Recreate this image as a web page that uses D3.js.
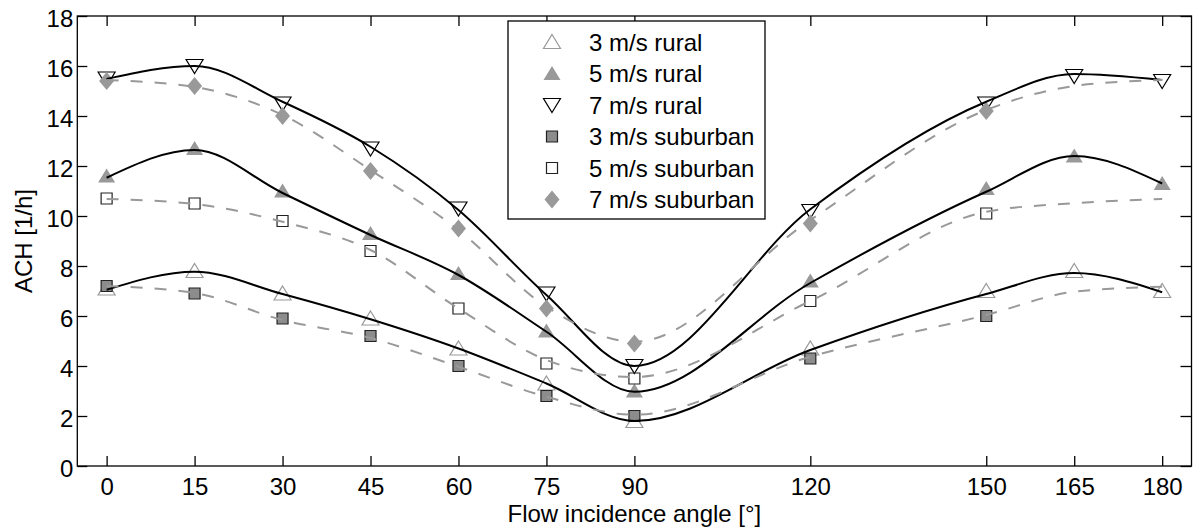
<!DOCTYPE html>
<meta charset="utf-8">
<style>
body { margin: 0; background: #fff; }
text { font-family: "Liberation Sans", Arial, Helvetica, sans-serif; font-size: 24px; fill: #000; }
.axis .domain { display: none; }
.axis line { stroke: #000; stroke-width: 1.3px; }
.frame { fill: none; stroke: #000; stroke-width: 1.3px; }
.fit { fill: none; stroke-width: 2px; }
.fit--rural { stroke: #000; }
.fit--suburban { stroke: #999; stroke-dasharray: 12,12; }
.legend-box { fill: #fff; stroke: #000; stroke-width: 1.3px; }
</style>
<svg width="1193" height="529"></svg>
<script src="https://cdn.jsdelivr.net/npm/d3@7"></script>
<script>

// measured angles (deg) and air change rates (1/h)
var angles = [0, 15, 30, 45, 60, 75, 90, 120, 150, 165, 180],
    anglesSub = [0, 15, 30, 45, 60, 75, 90, 120, 150];

var rural3 = [7.1, 7.8, 6.9, 5.9, 4.7, 3.3, 1.8, 4.7, 7.0, 7.8, 7.0],
    rural5 = [11.6, 12.7, 11.0, 9.3, 7.7, 5.4, 3.0, 7.4, 11.1, 12.4, 11.3],
    rural7 = [15.5, 16.0, 14.5, 12.7, 10.3, 6.9, 4.0, 10.2, 14.5, 15.6, 15.4];

var sub3 = [7.2, 6.9, 5.9, 5.2, 4.0, 2.8, 2.0, 4.3, 6.0],
    sub5 = [10.7, 10.5, 9.8, 8.6, 6.3, 4.1, 3.5, 6.6, 10.1],
    sub7 = [15.4, 15.2, 14.0, 11.8, 9.5, 6.3, 4.9, 9.7, 14.2];

// fitted curves read at the tick angles
var fitRural3 = [7.05, 7.77, 6.88, 5.87, 4.7, 3.3, 1.8, 4.64, 6.88, 7.72, 6.95],
    fitRural5 = [11.53, 12.64, 10.92, 9.24, 7.64, 5.37, 2.97, 7.32, 10.97, 12.4, 11.3],
    fitRural7 = [15.48, 16.0, 14.57, 12.77, 10.24, 6.84, 4.0, 10.27, 14.57, 15.68, 15.44],
    fitSub3 = [7.2, 6.92, 5.84, 5.12, 3.97, 2.77, 2.05, 4.37, 6.04, 6.97, 7.17],
    fitSub5 = [10.68, 10.48, 9.77, 8.64, 6.3, 4.24, 3.56, 6.6, 10.17, 10.51, 10.68],
    fitSub7 = [15.44, 15.16, 14.04, 11.84, 9.44, 6.37, 4.97, 9.84, 14.24, 15.2, 15.44];

var yTicks = [0, 2, 4, 6, 8, 10, 12, 14, 16, 18];

var series = [
  {name: "3 m/s rural",    xs: angles,    ys: rural3, marker: "up",      fill: "none", stroke: "#999"},
  {name: "5 m/s rural",    xs: angles,    ys: rural5, marker: "up",      fill: "#999", stroke: "none"},
  {name: "7 m/s rural",    xs: angles,    ys: rural7, marker: "down",    fill: "none", stroke: "#000"},
  {name: "3 m/s suburban", xs: anglesSub, ys: sub3,   marker: "square",  fill: "#8c8c8c", stroke: "#222"},
  {name: "5 m/s suburban", xs: anglesSub, ys: sub5,   marker: "square",  fill: "none", stroke: "#222"},
  {name: "7 m/s suburban", xs: anglesSub, ys: sub7,   marker: "diamond", fill: "#999", stroke: "none"}
];

var fits = [
  {ys: fitRural3, cls: "fit fit--rural"},
  {ys: fitRural5, cls: "fit fit--rural"},
  {ys: fitRural7, cls: "fit fit--rural"},
  {ys: fitSub3, cls: "fit fit--suburban"},
  {ys: fitSub5, cls: "fit fit--suburban"},
  {ys: fitSub7, cls: "fit fit--suburban"}
];

var svg = d3.select("svg"),
    plotLeft = 77.3, plotRight = 1191.5, plotTop = 16, plotBottom = 466;

var x = d3.scaleLinear().domain([-5, 185]).range([plotLeft, plotRight]),
    y = d3.scaleLinear().domain([0, 18]).range([plotBottom, plotTop]);

function markerPath(type) {
  switch (type) {
    case "up":      return "M0,-7.5L8.5,6.5L-8.5,6.5Z";
    case "down":    return "M0,7.5L8.5,-6.5L-8.5,-6.5Z";
    case "square":  return "M-5.5,-5.5H5.5V5.5H-5.5Z";
    case "diamond": return "M0,-9L7.5,0L0,9L-7.5,0Z";
  }
}

// axes: ticks pointing inwards on all four sides
svg.append("g").attr("class", "axis")
    .attr("transform", "translate(0," + plotBottom + ")")
    .call(d3.axisBottom(x).tickValues(angles).tickSize(-10).tickPadding(12));

svg.append("g").attr("class", "axis")
    .attr("transform", "translate(0," + plotTop + ")")
    .call(d3.axisTop(x).tickValues(angles).tickSize(-10).tickFormat(""));

svg.append("g").attr("class", "axis")
    .attr("transform", "translate(" + plotLeft + ",0)")
    .call(d3.axisLeft(y).tickValues(yTicks).tickSize(-10).tickPadding(4))
  .selectAll("text").attr("dy", "0.45em");

svg.append("g").attr("class", "axis")
    .attr("transform", "translate(" + plotRight + ",0)")
    .call(d3.axisRight(y).tickValues(yTicks).tickSize(-11).tickFormat(""));

svg.selectAll(".axis").attr("font-size", null).attr("font-family", null);

svg.append("rect").attr("class", "frame")
    .attr("x", plotLeft).attr("y", plotTop)
    .attr("width", plotRight - plotLeft).attr("height", plotBottom - plotTop);

// markers
series.forEach(function(s) {
  svg.append("g").selectAll("path")
    .data(s.xs.map(function(a, i) { return [a, s.ys[i]]; }))
    .enter().append("path")
      .attr("d", markerPath(s.marker))
      .attr("transform", function(d) { return "translate(" + x(d[0]) + "," + y(d[1]) + ")"; })
      .attr("fill", s.fill)
      .attr("stroke", s.stroke)
      .attr("stroke-width", 1.2);
});

// fitted curves
var line = d3.line()
    .x(function(d) { return x(d[0]); })
    .y(function(d) { return y(d[1]); })
    .curve(d3.curveMonotoneX);

fits.forEach(function(f) {
  svg.append("path")
      .attr("class", f.cls)
      .attr("d", line(angles.map(function(a, i) { return [a, f.ys[i]]; })));
});

// axis titles
svg.append("text")
    .attr("x", x(90)).attr("y", 522)
    .attr("text-anchor", "middle")
    .text("Flow incidence angle [°]");

svg.append("text")
    .attr("transform", "translate(32," + (plotTop + plotBottom) / 2 + ") rotate(-90)")
    .attr("text-anchor", "middle")
    .text("ACH [1/h]");

// legend
var legend = svg.append("g").attr("transform", "translate(508,21)");
legend.append("rect").attr("class", "legend-box")
    .attr("width", 257).attr("height", 198);

var item = legend.selectAll(".item")
    .data(series)
  .enter().append("g")
    .attr("transform", function(d, i) { return "translate(0," + (21 + i * 31.5) + ")"; });

item.append("path")
    .attr("d", function(d) { return markerPath(d.marker); })
    .attr("transform", "translate(44,0)")
    .attr("fill", function(d) { return d.fill; })
    .attr("stroke", function(d) { return d.stroke; })
    .attr("stroke-width", 1.2);

item.append("text")
    .attr("x", 81).attr("dy", "0.36em")
    .text(function(d) { return d.name; });

</script>
